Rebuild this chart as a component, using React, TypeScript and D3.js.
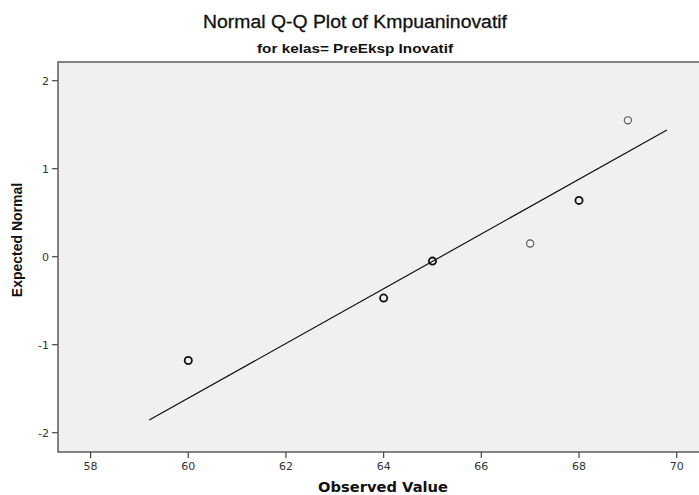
import React from "react";
import * as d3 from "d3";

const observed = [60, 64, 65, 67, 68, 69];
const expected = [-1.18, -0.47, -0.05, 0.15, 0.64, 1.55];
const counts = [2, 2, 2, 1, 2, 1];
const lineX = [59.2, 69.8];
const lineMean = 65.17;
const lineSd = 3.216;
const xTicks = [58, 60, 62, 64, 66, 68, 70];
const yTicks = [-2, -1, 0, 1, 2];

const W = 699;
const H = 495;
const frame = { left: 58, top: 62, right: 702, bottom: 452 };

export default function App() {
  const x = d3.scaleLinear().domain([58, 70]).range([90.6, 676.7]);
  const y = d3.scaleLinear().domain([-2, 2]).range([432.7, 80.7]);
  const line = d3
    .line<number>()
    .x((d) => x(d))
    .y((d) => y((d - lineMean) / lineSd));
  const font = "'Liberation Sans', Arial, sans-serif";
  const tickFont = "'DejaVu Sans', sans-serif";
  return (
    <svg
      width={W}
      height={H}
      style={{ position: "absolute", left: 0, top: 0, background: "#fff" }}
      fontFamily={font}
    >
      <text
        x={355}
        y={28}
        textAnchor="middle"
        fontSize={18}
        fill="#111"
        stroke="#111"
        strokeWidth={0.3}
        textLength={304}
        lengthAdjust="spacingAndGlyphs"
      >
        Normal Q-Q Plot of Kmpuaninovatif
      </text>
      <text
        x={355}
        y={53}
        textAnchor="middle"
        fontSize={13.5}
        fontWeight="bold"
        fill="#111"
        textLength={196}
        lengthAdjust="spacingAndGlyphs"
      >
        for kelas= PreEksp Inovatif
      </text>
      <rect
        x={frame.left}
        y={frame.top}
        width={frame.right - frame.left}
        height={frame.bottom - frame.top}
        fill="#f0f0f0"
        stroke="#444"
        strokeWidth={1.3}
      />
      {yTicks.map((t) => (
        <g key={"y" + t}>
          <line x1={52} x2={frame.left} y1={y(t)} y2={y(t)} stroke="#444" strokeWidth={1.2} />
          <text x={49} y={y(t) + 4} textAnchor="end" fontSize={11} fill="#333" fontFamily={tickFont}>
            {t}
          </text>
        </g>
      ))}
      {xTicks.map((t) => (
        <g key={"x" + t}>
          <line x1={x(t)} x2={x(t)} y1={frame.bottom} y2={frame.bottom + 6} stroke="#444" strokeWidth={1.2} />
          <text x={x(t)} y={frame.bottom + 18} textAnchor="middle" fontSize={11} fill="#333" fontFamily={tickFont}>
            {t}
          </text>
        </g>
      ))}
      <path d={line(lineX) || ""} fill="none" stroke="#111" strokeWidth={1.2} />
      {observed.map((o, i) => (
        <circle
          key={i}
          cx={x(o)}
          cy={y(expected[i])}
          r={3.6}
          fill="none"
          stroke={counts[i] > 1 ? "#111" : "#555"}
          strokeWidth={counts[i] > 1 ? 1.8 : 1.1}
        />
      ))}
      <text
        transform={`translate(22,240) rotate(-90)`}
        textAnchor="middle"
        fontSize={14}
        fontWeight="bold"
        fill="#111"
      >
        Expected Normal
      </text>
      <text
        x={383}
        y={492}
        textAnchor="middle"
        fontSize={14}
        fontWeight="bold"
        fill="#111"
        fontFamily={tickFont}
        textLength={130}
        lengthAdjust="spacingAndGlyphs"
      >
        Observed Value
      </text>
    </svg>
  );
}
